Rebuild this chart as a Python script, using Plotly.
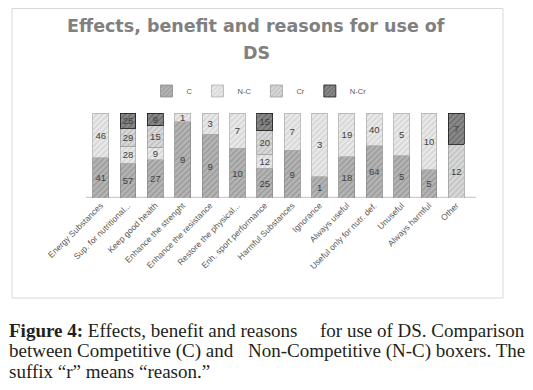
import plotly.graph_objects as go

categories = [
    "Energy Substances", "Sup. for nutritional...", "Keep good health",
    "Enhance the strenght", "Enhance the resistance", "Restore the physical...",
    "Enh. sport performance", "Harmful Substances", "Ignorance", "Always useful",
    "Useful only for nutr. def.", "Unuseful", "Always harmful", "Other",
]
series_names = ["C", "N-C", "Cr", "N-Cr"]
c_vals = [41, 57, 27, 9, 9, 10, 25, 9, 1, 18, 64, 5, 5, None]
nc_vals = [46, 28, 9, 1, 3, 7, 12, 7, 3, 19, 40, 5, 10, None]
cr_vals = [None, 29, 15, None, None, None, 20, None, None, None, None, None, None, 12]
ncr_vals = [None, 25, 9, None, None, None, 15, None, None, None, None, None, None, 7]

title_line1 = "Effects, benefit and reasons for use of"
title_line2 = "DS"
# justified caption: lines split into a left-aligned and a right-aligned part
caption_parts = [
    ("<b>Figure 4:</b> Effects, benefit and reasons", "for use of DS. Comparison"),
    ("between Competitive (C) and", "Non-Competitive (N-C) boxers. The"),
    ("suffix \u201cr\u201d means \u201creason.\u201d", None),
]

# the page body has an 8px margin, so the figure is offset by 8px
OFF = 8
W, H = 533 - OFF, 390 - OFF
ML, MR, MT, MB = 87 - OFF, 63, 113 - OFF, 192
PW = W - ML - MR
PH = H - MT - MB


def px_x(x):
    return (x - OFF - ML) / PW


def px_y(y):
    return (H - MB - (y - OFF)) / PH


styles = [
    dict(bg="#b5b5b5", fg="#989898", line="#8c8c8c"),
    dict(bg="#e9e9e9", fg="#d2d2d2", line="#b0b0b0"),
    dict(bg="#d9d9d9", fg="#bdbdbd", line="#a0a0a0"),
    dict(bg="#8a8a8a", fg="#6a6a6a", line="#1a1a1a"),
]

fig = go.Figure()
for name, vals, st in zip(series_names, [c_vals, nc_vals, cr_vals, ncr_vals], styles):
    fig.add_trace(go.Bar(
        x=categories, y=vals, name=name,
        text=[("" if v is None else str(v)) for v in vals],
        textposition="inside", insidetextanchor="middle", textangle=0,
        textfont=dict(family="Liberation Sans", size=9.5, color="#404040"),
        marker=dict(
            color=st["bg"],
            line=dict(color=st["line"], width=0.8),
            pattern=dict(shape="/", fgcolor=st["fg"], bgcolor=st["bg"],
                         size=4, solidity=0.35, fillmode="replace"),
        ),
        hoverinfo="skip",
    ))

fig.update_layout(
    width=W, height=H,
    barmode="stack", barnorm="percent", bargap=0.42,
    margin=dict(l=ML, r=MR, t=MT, b=MB, autoexpand=False),
    paper_bgcolor="white", plot_bgcolor="white",
    showlegend=True,
    legend=dict(orientation="h", xref="container", yref="container",
                x=(259 - OFF) / W, y=1 - (91 - OFF) / H, xanchor="center", yanchor="middle",
                font=dict(family="Liberation Sans", size=7.5, color="#595959"),
                itemwidth=30, traceorder="normal"),
    uniformtext=dict(minsize=9, mode="show"),
    xaxis=dict(tickangle=-45, showgrid=False, showline=False, ticks="",
               tickfont=dict(family="Liberation Sans", size=8.5, color="#595959")),
    yaxis=dict(visible=False, range=[0, 100], showgrid=False),
)

shapes = [
    dict(type="rect", xref="paper", yref="paper",
         x0=px_x(12), x1=px_x(503), y0=px_y(298), y1=px_y(8.5),
         line=dict(color="#d9d9d9", width=1), fillcolor="rgba(0,0,0,0)", layer="below"),
    dict(type="line", xref="paper", yref="y", x0=px_x(86), x1=px_x(476), y0=0, y1=0,
         line=dict(color="#d6c8d6", width=2.5), layer="below"),
]
fig.update_layout(shapes=shapes)

title_font = dict(family="DejaVu Sans", size=17.5, color="#808080", weight="bold")
annotations = [
    dict(text=title_line1, x=px_x(256), y=px_y(26), xref="paper", yref="paper",
         showarrow=False, xanchor="center", yanchor="middle", font=title_font),
    dict(text=title_line2, x=px_x(256), y=px_y(53), xref="paper", yref="paper",
         showarrow=False, xanchor="center", yanchor="middle", font=title_font),
]
cap_font = dict(family="Liberation Serif", size=19, color="#231f20")
for (left, right), yc in zip(caption_parts, [330, 350.5, 371]):
    annotations.append(dict(
        text=left, x=px_x(7), y=px_y(yc), xref="paper", yref="paper",
        showarrow=False, xanchor="left", yanchor="middle", align="left", font=cap_font))
    if right:
        annotations.append(dict(
            text=right, x=px_x(527), y=px_y(yc), xref="paper", yref="paper",
            showarrow=False, xanchor="right", yanchor="middle", align="right", font=cap_font))
fig.update_layout(annotations=annotations)

fig.write_html("out.html")
